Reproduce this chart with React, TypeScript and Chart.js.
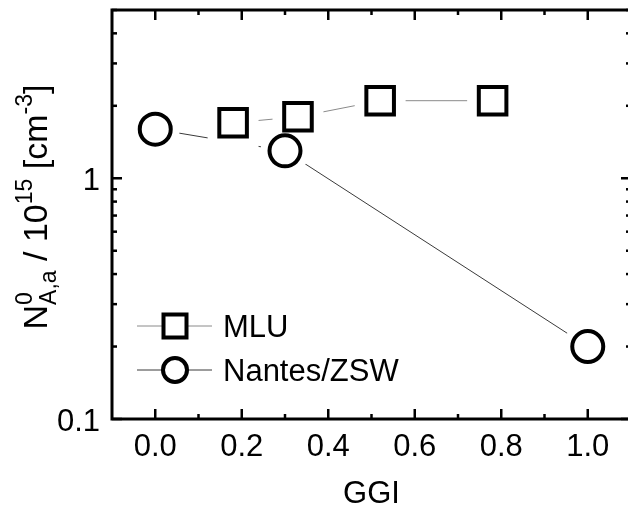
import React, { useEffect, useRef } from 'react';
import { Chart, registerables } from 'chart.js';

Chart.register(...registerables);

// ---- data ----
const mluGGI = [0.18, 0.33, 0.52, 0.78];
const mluN = [1.7, 1.8, 2.1, 2.1];
const nantesGGI = [0.0, 0.3, 1.0];
const nantesN = [1.6, 1.3, 0.2];

const xMajorTicks = [0, 0.2, 0.4, 0.6, 0.8, 1.0];
const xMinorTicks = [0.1, 0.3, 0.5, 0.7, 0.9];
const yMajorTicks = [0.1, 1];
const yMinorTicks = [0.2, 0.3, 0.4, 0.5, 0.6, 0.7, 0.8, 0.9, 2, 3, 4, 5];
const legendLabels = ['MLU', 'Nantes/ZSW'];
const xTitle = 'GGI';

const FONT = '"Liberation Sans", Arial, sans-serif';
const MLU_LINE = '#8a8a8a';
const NANTES_LINE = '#3a3a3a';

const toXY = (xs: number[], ys: number[]) => xs.map((x, i) => ({ x, y: ys[i] }));

const framePlugin = {
  id: 'frame',
  afterDraw(chart: any) {
    const { ctx, chartArea: a, scales } = chart;
    const xs = scales.x;
    const ys = scales.y;
    ctx.save();
    ctx.strokeStyle = '#000';
    ctx.fillStyle = '#000';

    const seg = (x1: number, y1: number, x2: number, y2: number) => {
      ctx.beginPath();
      ctx.moveTo(x1, y1);
      ctx.lineTo(x2, y2);
      ctx.stroke();
    };

    // ticks
    ctx.lineWidth = 2.5;
    for (const v of xMajorTicks) {
      const p = xs.getPixelForValue(v);
      seg(p, a.bottom, p, a.bottom - 10);
      seg(p, a.top, p, a.top + 10);
    }
    for (const v of xMinorTicks) {
      const p = xs.getPixelForValue(v);
      seg(p, a.bottom, p, a.bottom - 5);
      seg(p, a.top, p, a.top + 5);
    }
    for (const v of yMajorTicks) {
      const p = ys.getPixelForValue(v);
      seg(a.left, p, a.left + 10, p);
      seg(a.right, p, a.right - 10, p);
    }
    for (const v of yMinorTicks) {
      const p = ys.getPixelForValue(v);
      seg(a.left, p, a.left + 5, p);
      seg(a.right, p, a.right - 5, p);
    }

    // frame
    ctx.lineWidth = 3;
    ctx.strokeRect(a.left, a.top, a.right - a.left, a.bottom - a.top);

    // tick labels
    ctx.font = `31px ${FONT}`;
    ctx.textAlign = 'center';
    ctx.textBaseline = 'alphabetic';
    for (const v of xMajorTicks) {
      ctx.fillText(v.toFixed(1), xs.getPixelForValue(v), a.bottom + 37);
    }
    ctx.textAlign = 'right';
    for (const v of yMajorTicks) {
      ctx.fillText(String(v), a.left - 12, ys.getPixelForValue(v) + 12);
    }

    // x title
    ctx.textAlign = 'center';
    ctx.fillText(xTitle, (a.left + a.right) / 2, a.bottom + 84);

    // y title (rotated, with sub/superscripts)
    ctx.save();
    ctx.translate(a.left - 65, 207);
    ctx.rotate(-Math.PI / 2);
    ctx.textAlign = 'left';
    const big = `34px ${FONT}`;
    const small = `23px ${FONT}`;
    type Part = { t: string; f: string; dy: number; stackWith?: { t: string; dy: number } };
    const parts: Part[] = [
      { t: 'N', f: big, dy: 0 },
      { t: '0', f: small, dy: -15, stackWith: { t: 'A,a', dy: 9 } },
      { t: ' / 10', f: big, dy: 0 },
      { t: '15', f: small, dy: -15 },
      { t: ' [cm', f: big, dy: 0 },
      { t: '-3', f: small, dy: -15 },
      { t: ']', f: big, dy: 0 },
    ];
    const widthOf = (p: Part) => {
      ctx.font = p.f;
      let w = ctx.measureText(p.t).width;
      if (p.stackWith) w = Math.max(w, ctx.measureText(p.stackWith.t).width);
      return w;
    };
    const total = parts.reduce((s, p) => s + widthOf(p), 0);
    let u = -total / 2;
    for (const p of parts) {
      const w = widthOf(p);
      ctx.font = p.f;
      ctx.fillText(p.t, u, p.dy);
      if (p.stackWith) ctx.fillText(p.stackWith.t, u, p.stackWith.dy);
      u += w;
    }
    ctx.restore();

    // legend
    const lx = a.left + 63;
    const rows = [a.top + 316, a.top + 360];
    ctx.lineWidth = 1;
    ctx.strokeStyle = MLU_LINE;
    seg(lx - 38, rows[0], lx + 37, rows[0]);
    ctx.strokeStyle = NANTES_LINE;
    seg(lx - 38, rows[1], lx + 37, rows[1]);

    ctx.strokeStyle = '#000';
    ctx.lineWidth = 4;
    ctx.fillStyle = '#fff';
    ctx.beginPath();
    ctx.rect(lx - 11.5, rows[0] - 11.5, 23, 23);
    ctx.fill();
    ctx.stroke();
    ctx.beginPath();
    ctx.arc(lx, rows[1], 12, 0, Math.PI * 2);
    ctx.fill();
    ctx.stroke();

    ctx.fillStyle = '#000';
    ctx.font = `31px ${FONT}`;
    ctx.textAlign = 'left';
    legendLabels.forEach((l, i) => ctx.fillText(l, lx + 48, rows[i] + 11));

    ctx.restore();
  },
};

export default function App() {
  const ref = useRef<HTMLCanvasElement | null>(null);

  useEffect(() => {
    if (!ref.current) return;
    const mlu = toXY(mluGGI, mluN);
    const nantes = toXY(nantesGGI, nantesN);
    const chart = new Chart(ref.current, {
      type: 'scatter',
      data: {
        datasets: [
          {
            label: legendLabels[0],
            data: mlu,
            showLine: false,
            pointStyle: 'rect',
            pointRadius: 19.5,
            pointBorderWidth: 4,
            pointBorderColor: '#000',
            pointBackgroundColor: 'rgba(0,0,0,0)',
            order: 1,
          },
          {
            label: legendLabels[1],
            data: nantes,
            showLine: false,
            pointStyle: 'circle',
            pointRadius: 15.5,
            pointBorderWidth: 4,
            pointBorderColor: '#000',
            pointBackgroundColor: 'rgba(0,0,0,0)',
            order: 1,
          },
          {
            label: 'mlu-gap',
            data: mlu,
            showLine: false,
            pointStyle: 'rect',
            pointRadius: 36,
            pointBorderWidth: 0,
            pointBackgroundColor: '#fff',
            order: 2,
          },
          {
            label: 'nantes-gap',
            data: nantes,
            showLine: false,
            pointStyle: 'circle',
            pointRadius: 24.5,
            pointBorderWidth: 0,
            pointBackgroundColor: '#fff',
            order: 2,
          },
          {
            label: 'mlu-line',
            data: mlu,
            showLine: true,
            borderColor: MLU_LINE,
            borderWidth: 1,
            pointRadius: 0,
            order: 3,
          },
          {
            label: 'nantes-line',
            data: nantes,
            showLine: true,
            borderColor: NANTES_LINE,
            borderWidth: 1,
            pointRadius: 0,
            order: 3,
          },
        ],
      },
      options: {
        animation: false,
        responsive: false,
        devicePixelRatio: 1,
        events: [],
        layout: { autoPadding: false, padding: { left: 112, right: 9, top: 10, bottom: 87 } },
        plugins: { legend: { display: false }, tooltip: { enabled: false } },
        scales: {
          x: { type: 'linear', min: -0.1, max: 1.1, display: false },
          y: { type: 'logarithmic', min: 0.1, max: 5, display: false },
        },
      },
      plugins: [framePlugin],
    });
    return () => chart.destroy();
  }, []);

  return (
    <div
      style={{
        position: 'fixed',
        left: 0,
        top: 0,
        width: 628,
        height: 506,
        overflow: 'hidden',
        background: '#fff',
      }}
    >
      <canvas ref={ref} width={640} height={506} style={{ width: 640, height: 506, display: 'block' }} />
    </div>
  );
}
